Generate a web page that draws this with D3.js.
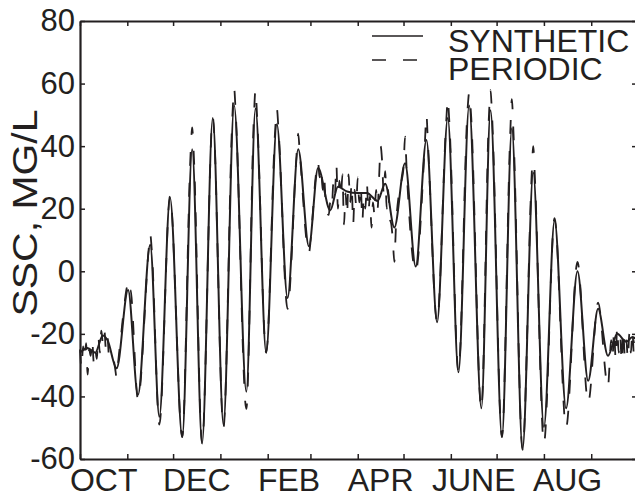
<!DOCTYPE html>
<html>
<head>
<meta charset="utf-8">
<script src="https://cdn.jsdelivr.net/npm/d3@7"></script>
<style>
body { margin: 0; background: #fff; }
svg { display: block; font-family: "Liberation Sans", Arial, Helvetica, sans-serif; }
</style>
</head>
<body>
<svg id="chart" width="635" height="495"></svg>
<script>
// days after 1 October
var synDays = [0, 5, 10, 15, 18, 24, 31.5, 38, 46, 52, 59, 67, 73.5, 80, 87, 94, 101, 109, 115, 122,
  129, 136, 143, 150, 156, 164, 169, 175, 182, 188, 195, 200, 206, 213, 220, 227, 234, 241, 248, 255,
  263, 269, 276.5, 283, 290, 297, 304, 311, 318.5, 326, 333, 339.5, 346, 350, 352, 358, 362, 365];
var synVals = [-26, -24.5, -26, -20.5, -22, -31, -6, -39.5, 8.5, -46.5, 23.5, -53, 39, -55, 49, -49, 53, -38.5, 52, -26,
  47, -8.5, 39, 8, 33, 19.5, 27, 25.5, 25, 25, 22.5, 28, 14, 34.5, 1.5, 42, -16.3, 49, -32.3, 53,
  -43.8, 51.5, -53, 45.7, -57, 31.6, -49.8, 16.3, -43.8, 0, -35, -12, -27, -22, -20, -22.5, -21, -22];

var perDays = [0, 1, 2, 3, 4, 5, 6, 7, 8, 9, 10, 11, 12, 13, 14, 15, 16, 17, 18, 19, 21, 23, 24, 25, 27, 29,
  31, 32, 33, 38, 45, 46, 47, 52, 59, 67, 72.5, 73.5, 74.5, 80, 87, 94, 100, 101, 102, 109, 114, 115, 116, 122,
  128, 129, 130, 136, 142, 143, 144, 150, 152, 154, 156, 157, 158, 159, 160, 161, 163, 164, 165, 166, 167, 168,
  169, 170, 171, 172, 173, 174, 175, 176, 177, 178, 179, 180, 181, 182, 183, 184, 185, 186, 187, 188, 189, 190,
  191, 192, 193, 194, 195, 196, 197, 198, 199, 200, 201, 202, 203, 204, 205, 206, 207, 209, 212, 213, 214, 220,
  226, 227, 228, 234, 240, 241, 242, 248, 254, 255, 256, 263, 268, 269, 270, 276.5, 282, 283, 284, 290,
  296, 297, 298, 304, 311, 318.5, 326, 333, 339.5, 346, 347, 348, 349, 350, 351, 352, 353, 354, 355, 356,
  357, 358, 359, 360, 361, 362, 363, 364, 365];
var perVals = [-25, -31, -24, -28, -23, -33, -25, -27, -22, -29, -25, -28, -21, -26, -19, -23, -19, -25, -21, -27, -26, -31, -34, -29, -20, -11,
  -5, -8, -6, -41, 7, 12, 7, -49, 24, -53, 38, 46, 38, -55, 49, -50, 51, 58.5, 51, -44, 50, 58, 50, -26,
  46, 52, 46, -12, 38, 44, 38, 6, 15, 28, 35, 30, 33, 26, 30, 22, 18, 22, 20, 28, 24, 34,
  20, 29, 24, 31, 15, 25, 18, 31, 22, 28, 15, 26, 21, 30, 22, 27, 16, 24, 20, 28, 19, 24,
  14, 22, 18, 26, 20, 30, 40, 35, 25, 32, 20, 26, 17, 15, 10, 3, 14, 25, 33, 43, 33, 0,
  41, 50, 41, -16, 48, 55, 48, -32, 52, 57, 52, -44, 50, 58, 50, -53, 45, 55, 45, -57,
  31, 40, 31, -55, 17, -50, 3, -42, -10, -37, -30, -22, -27, -19, -28, -18, -26, -21, -29, -19,
  -27, -22, -28, -20, -26, -19, -27, -22, -25];

var yTicks = [-60, -40, -20, 0, 20, 40, 60, 80];
var monthLabels = ["OCT", "DEC", "FEB", "APR", "JUNE", "AUG"];
var labelMonths = [0, 2, 4, 6, 8, 10]; // months after October
var seriesNames = ["SYNTHETIC", "PERIODIC"];

var ink = "#231f20";
var svg = d3.select("#chart");
var mLeft = 80, mRight = 637, mTop = 21, mBottom = 459;

var start = new Date(1990, 9, 1), end = new Date(1991, 9, 1);
function dayDate(d) { return new Date(start.getTime() + d * 864e5); }

var x = d3.scaleTime().domain([start, end]).range([mLeft, mRight]);
var y = d3.scaleLinear().domain([-60, 80]).range([mBottom, mTop]);

var months = d3.timeMonth.range(start, d3.timeDay.offset(end, 1));

// frame with inward ticks on all four sides
function styleAxis(g) {
  g.select(".domain").attr("stroke", ink).attr("stroke-width", 2.2);
  g.selectAll(".tick line").attr("stroke", ink).attr("stroke-width", 1.5);
  g.selectAll(".tick text").attr("fill", ink);
}
svg.append("g").attr("transform", "translate(0," + mBottom + ")")
  .call(d3.axisBottom(x).tickValues(months).tickSize(-5).tickSizeOuter(0).tickFormat(""))
  .call(styleAxis);
svg.append("g").attr("transform", "translate(0," + mTop + ")")
  .call(d3.axisTop(x).tickValues(months).tickSize(-5).tickSizeOuter(0).tickFormat(""))
  .call(styleAxis);
svg.append("g").attr("transform", "translate(" + mLeft + ",0)")
  .call(d3.axisLeft(y).tickValues(yTicks).tickSize(-5).tickSizeOuter(0).tickPadding(5)
    .tickFormat(function(d) { return String(d); }))
  .call(styleAxis)
  .selectAll(".tick text").attr("font-size", 31).attr("font-family", null);
svg.append("g").attr("transform", "translate(" + mRight + ",0)")
  .call(d3.axisRight(y).tickValues(yTicks).tickSize(-5).tickSizeOuter(0).tickFormat(""))
  .call(styleAxis);

// month names sit in the middle of their month
svg.append("g").selectAll("text")
  .data(labelMonths)
  .enter().append("text")
    .attr("x", function(m) {
      var a = d3.timeMonth.offset(start, m), b = d3.timeMonth.offset(start, m + 1);
      return (x(a) + x(b)) / 2;
    })
    .attr("y", 491)
    .attr("text-anchor", "middle")
    .attr("font-size", 32)
    .attr("fill", ink)
    .text(function(m, i) { return monthLabels[i]; });

// the original title is drawn stretched along its length
svg.append("text")
  .attr("transform", "translate(37,213) rotate(-90) scale(1.17,1)")
  .attr("text-anchor", "middle")
  .attr("font-size", 35)
  .attr("fill", ink)
  .text("SSC, MG/L");

var line = d3.line()
  .x(function(d) { return x(dayDate(d[0])); })
  .y(function(d) { return y(d[1]); })
  .curve(d3.curveMonotoneX);

var periodic = perDays.map(function(d, i) { return [d, perVals[i]]; });
var synthetic = synDays.map(function(d, i) { return [d, synVals[i]]; });

svg.append("path")
  .datum(periodic)
  .attr("d", line)
  .attr("fill", "none")
  .attr("stroke", ink)
  .attr("stroke-width", 1.8)
  .attr("stroke-dasharray", "14,17");

svg.append("path")
  .datum(synthetic)
  .attr("d", line)
  .attr("fill", "none")
  .attr("stroke", ink)
  .attr("stroke-width", 2);

// legend
var legend = svg.append("g");
legend.selectAll("line")
  .data(seriesNames)
  .enter().append("line")
    .attr("x1", 372).attr("x2", 423)
    .attr("y1", function(d, i) { return 36 + i * 24; })
    .attr("y2", function(d, i) { return 36 + i * 24; })
    .attr("stroke", ink)
    .attr("stroke-width", 1.5)
    .attr("stroke-dasharray", function(d, i) { return i ? "14,17" : null; });
legend.selectAll("text")
  .data(seriesNames)
  .enter().append("text")
    .attr("x", 448)
    .attr("y", function(d, i) { return 52 + i * 28; })
    .attr("font-size", 32)
    .attr("fill", ink)
    .text(function(d) { return d; });
</script>
</body>
</html>
